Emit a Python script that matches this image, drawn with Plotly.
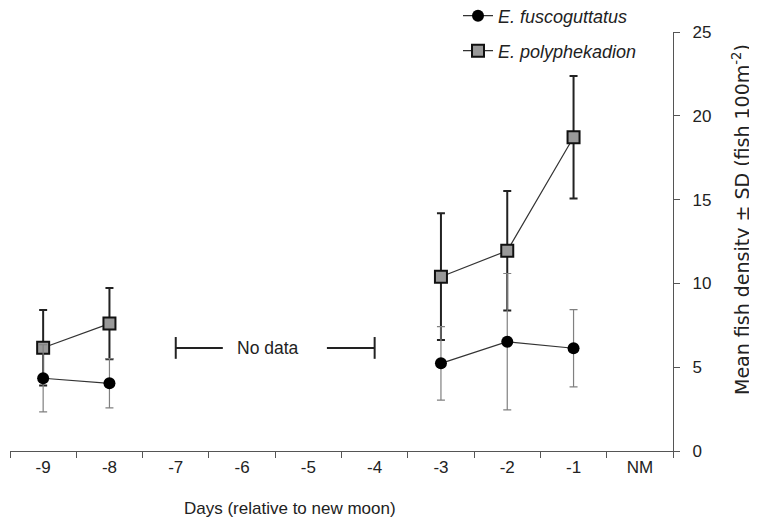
import plotly.graph_objects as go

days = [-9, -8, -7, -6, -5, -4, -3, -2, -1]
tick_labels = ["-9", "-8", "-7", "-6", "-5", "-4", "-3", "-2", "-1", "NM"]
tick_positions = [-9, -8, -7, -6, -5, -4, -3, -2, -1, 0]
y_ticks = [0, 5, 10, 15, 20, 25]

fusco_mean = [4.34, 4.04, None, None, None, None, 5.23, 6.52, 6.13]
fusco_sd = [2.0, 1.47, None, None, None, None, 2.19, 4.07, 2.3]
poly_mean = [6.16, 7.6, None, None, None, None, 10.4, 11.95, 18.72]
poly_sd = [2.25, 2.12, None, None, None, None, 3.78, 3.56, 3.65]

font_family = "Liberation Sans, Arial, sans-serif"
txt = "#222222"
axc = "#555555"

# page has an 8px body margin; target plot area in page pixels: x 10..673, y 32..451
OFF = 8
W, H = 757 - OFF, 524 - OFF
L, R, T, B = 10, 673, 32, 451
PW, PH = R - L, B - T


def px_x(p):
    return (p - L) / PW


def px_y(p):
    return (B - p) / PH


fig = go.Figure()

fig.add_trace(go.Scatter(
    x=days, y=poly_mean, name="E. polyphekadion", mode="lines+markers",
    line=dict(color="#333333", width=1.2),
    marker=dict(symbol="square", size=12, color="#999999", line=dict(color="#111111", width=2)),
    error_y=dict(type="data", array=poly_sd, visible=True, color="#222222", thickness=2, width=4),
    connectgaps=False, legend="legend2",
))
fig.add_trace(go.Scatter(
    x=days, y=fusco_mean, name="E. fuscoguttatus", mode="lines+markers",
    line=dict(color="#333333", width=1.2),
    marker=dict(symbol="circle", size=12, color="#000000"),
    error_y=dict(type="data", array=fusco_sd, visible=True, color="#808080", thickness=1.2, width=4),
    connectgaps=False, legend="legend",
))

# "No data" bracket
nd_y = 6.15
shapes = [
    dict(type="line", xref="x", yref="y", x0=-7, x1=-6.29, y0=nd_y, y1=nd_y, line=dict(color="#222", width=2)),
    dict(type="line", xref="x", yref="y", x0=-4.72, x1=-4, y0=nd_y, y1=nd_y, line=dict(color="#222", width=2)),
    dict(type="line", xref="x", yref="y", x0=-7, x1=-7, y0=nd_y - 0.65, y1=nd_y + 0.65, line=dict(color="#222", width=2)),
    dict(type="line", xref="x", yref="y", x0=-4, x1=-4, y0=nd_y - 0.65, y1=nd_y + 0.65, line=dict(color="#222", width=2)),
]

legend_x = px_x(458)
fig.update_layout(
    width=W, height=H,
    margin=dict(l=L - OFF, r=W - (R - OFF), t=T - OFF, b=H - (B - OFF), autoexpand=False),
    paper_bgcolor="white", plot_bgcolor="white",
    font=dict(family=font_family, size=17, color=txt),
    shapes=shapes,
    showlegend=True,
    legend=dict(x=legend_x, y=px_y(16), xanchor="left", yanchor="middle",
                font=dict(size=18, style="italic", color=txt), bgcolor="rgba(0,0,0,0)"),
    legend2=dict(x=legend_x, y=px_y(51), xanchor="left", yanchor="middle",
                 font=dict(size=18, style="italic", color=txt), bgcolor="rgba(0,0,0,0)"),
    annotations=[
        dict(x=-5.61, y=nd_y, xref="x", yref="y", text="No data", showarrow=False,
             font=dict(size=17.5, color=txt)),
        dict(x=px_x(290), y=px_y(508), xref="paper", yref="paper",
             text="Days (relative to new moon)", showarrow=False,
             font=dict(size=17, color=txt), xanchor="center", yanchor="middle"),
        dict(x=px_x(741), y=px_y(220), xref="paper", yref="paper",
             text="Mean fish density ± SD (fish 100m<sup>-2</sup>)", showarrow=False, textangle=-90,
             font=dict(size=19, color=txt, family="DejaVu Sans, sans-serif"),
             xanchor="center", yanchor="middle"),
    ],
)

fig.update_xaxes(
    range=[-9.5, 0.5], tickvals=tick_positions, ticktext=tick_labels,
    showline=True, linecolor=axc, linewidth=1.2, automargin=False,
    ticks="", showgrid=False, zeroline=False,
    minor=dict(tickvals=[v - 0.5 for v in tick_positions] + [0.5], ticks="outside",
               ticklen=6, tickcolor=axc, tickwidth=1.2, showgrid=False),
    tickfont=dict(size=17, color=txt),
)
fig.update_yaxes(
    range=[0, 25], tickvals=y_ticks, side="right", automargin=False,
    showline=True, linecolor=axc, linewidth=1.2,
    ticks="outside", ticklen=6, tickcolor=axc, tickwidth=1.2,
    ticklabelstandoff=9,
    showgrid=False, zeroline=False,
    tickfont=dict(size=17, color=txt),
)

fig.write_html("out.html")
